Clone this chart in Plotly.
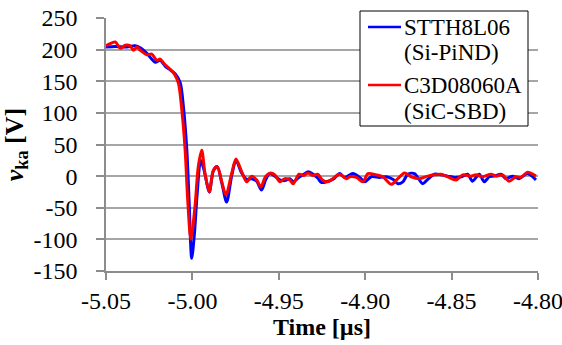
import plotly.graph_objects as go

# Time axis [µs] and voltages [V]
t_si = [-5.0500, -5.0446, -5.0389, -5.0331, -5.0302, -5.0263, -5.0215, -5.0187, -5.0158, -5.0129,
        -5.0100, -5.0071, -5.0052, -5.0032, -5.0019, -5.0004, -4.9988, -4.9973, -4.9952, -4.9933,
        -4.9902, -4.9879, -4.9856, -4.9829, -4.9802, -4.9773, -4.9748, -4.9715, -4.9686, -4.9657,
        -4.9628, -4.9600, -4.9575, -4.9552, -4.9523, -4.9494, -4.9465, -4.9436, -4.9417, -4.9383,
        -4.9360, -4.9331, -4.9302, -4.9275, -4.9254, -4.9225, -4.9186, -4.9148, -4.9119, -4.9071,
        -4.9032, -4.9003, -4.8965, -4.8917, -4.8878, -4.8840, -4.8811, -4.8782, -4.8753, -4.8715,
        -4.8667, -4.8638, -4.8599, -4.8561, -4.8523, -4.8484, -4.8445, -4.8407, -4.8379, -4.8340,
        -4.8311, -4.8282, -4.8253, -4.8214, -4.8185, -4.8147, -4.8109, -4.8061, -4.8012]
v_si = [204, 205, 204, 206, 203, 194, 180, 183, 174, 168,
        162, 148, 110, 40, -40, -130, -90, -30, 25, 10,
        -25, 8, 15, -12, -41, 0, 25, 5, -5, -4,
        -8, -22, -5, 4, 0, -6, -7, -4, -9, -2,
        2, 7, 3, -3, -10, -9, -5, 4, -2, 4,
        -2, -9, -1, -2, -1, -5, -12, -9, 3, 4,
        -12, -5, 3, 2, 0, -2, -1, 3, -8, 3,
        -9, -1, 0, 3, -4, 0, -4, 4, -6]

t_sic = [-5.0500, -5.0446, -5.0417, -5.0389, -5.0360, -5.0341, -5.0321, -5.0302, -5.0263, -5.0235,
         -5.0206, -5.0187, -5.0158, -5.0129, -5.0106, -5.0081, -5.0061, -5.0042, -5.0027, -5.0009,
         -4.9985, -4.9966, -4.9946, -4.9927, -4.9902, -4.9879, -4.9856, -4.9830, -4.9806, -4.9773,
         -4.9748, -4.9715, -4.9686, -4.9657, -4.9628, -4.9604, -4.9577, -4.9548, -4.9523, -4.9494,
         -4.9465, -4.9436, -4.9417, -4.9383, -4.9355, -4.9332, -4.9304, -4.9275, -4.9248, -4.9217,
         -4.9188, -4.9148, -4.9109, -4.9090, -4.9051, -4.9013, -4.8984, -4.8936, -4.8898, -4.8849,
         -4.8811, -4.8773, -4.8734, -4.8686, -4.8638, -4.8599, -4.8561, -4.8523, -4.8474, -4.8436,
         -4.8388, -4.8359, -4.8321, -4.8272, -4.8243, -4.8205, -4.8167, -4.8128, -4.8099, -4.8061,
         -4.8012]
v_sic = [206, 212, 202, 207, 206, 199, 204, 199, 192, 193,
         183, 185, 176, 169, 162, 147, 104, 41, -38, -100,
         -48, 15, 41, 4, -25, 9, 15, -9, -30, 4,
         27, 7, -9, 0, -6, -17, -1, 5, 2, -9,
         -4, -6, -12, 3, 1, 5, 1, 3, -6, -9,
         -4, 3, -4, -1, -2, -9, 4, 2, -1, -13,
         -4, 5, -1, -4, 0, 2, 3, -1, -6, 2,
         0, 2, -1, 3, 0, 2, -8, -1, -2, 6,
         0]

series_names = ["STTH8L06", "C3D08060A"]
series_sub = ["(Si-PiND)", "(SiC-SBD)"]
series_colors = ["#0000FF", "#FF0000"]

x_ticks = [-5.05, -5.00, -4.95, -4.90, -4.85, -4.80]
x_ticktext = ["-5.05", "-5.00", "-4.95", "-4.90", "-4.85", "-4.80"]
y_ticks = [-150, -100, -50, 0, 50, 100, 150, 200, 250]
y_ticktext = ["-150", "-100", "-50", "0", "50", "100", "150", "200", "250"]

FONT = "'Times New Roman', 'Liberation Serif', Tinos, 'DejaVu Serif', serif"

W, H = 562, 345
ML, MR, MT, MB = 106, 24, 18, 74
PW, PH = W - ML - MR, H - MT - MB


def px(xp):
    return (xp - ML) / PW


def py(yp):
    return (H - MB - yp) / PH


fig = go.Figure()
for t, v, nm, sub, col in [(t_si, v_si, series_names[0], series_sub[0], series_colors[0]),
                           (t_sic, v_sic, series_names[1], series_sub[1], series_colors[1])]:
    fig.add_trace(go.Scatter(x=t, y=v, mode="lines", name=nm + " " + sub, showlegend=False,
                             line=dict(color=col, width=3, shape="spline", smoothing=0.8)))

# manual legend (box, line samples, two-line labels)
shapes = [dict(type="rect", xref="paper", yref="paper", x0=px(360), x1=px(528), y0=py(126), y1=py(11),
               line=dict(color="black", width=1), fillcolor="white", layer="above")]
annotations = []
for i, (nm, sub, col) in enumerate(zip(series_names, series_sub, series_colors)):
    y_line = 27 + i * 58
    shapes.append(dict(type="line", xref="paper", yref="paper", x0=px(368), x1=px(401),
                       y0=py(y_line), y1=py(y_line), line=dict(color=col, width=2.5), layer="above"))
    annotations.append(dict(text=nm, xref="paper", yref="paper", x=px(402), y=py(y_line),
                            xanchor="left", yanchor="middle", showarrow=False,
                            font=dict(family=FONT, size=23, color="black")))
    annotations.append(dict(text=sub, xref="paper", yref="paper", x=px(402), y=py(y_line + 26),
                            xanchor="left", yanchor="middle", showarrow=False,
                            font=dict(family=FONT, size=23, color="black")))

fig.update_layout(
    width=W, height=H,
    margin=dict(l=ML, r=MR, t=MT, b=MB),
    paper_bgcolor="white", plot_bgcolor="white",
    font=dict(family=FONT, size=24, color="black"),
    showlegend=False,
    shapes=shapes, annotations=annotations,
    xaxis=dict(range=[-5.05, -4.80], tickvals=x_ticks, ticktext=x_ticktext,
               showgrid=False, showline=True, linecolor="#8c8c8c", linewidth=1.5,
               ticks="outside", ticklen=7, tickcolor="#8c8c8c", tickwidth=1.5,
               zeroline=False, ticklabeloverflow="allow", automargin=False,
               title=dict(text="<b>Time [µs]</b>", font=dict(size=24), standoff=2)),
    yaxis=dict(range=[-150, 250], tickvals=y_ticks, ticktext=y_ticktext,
               showgrid=True, gridcolor="#a6a6a6", gridwidth=1.5,
               showline=True, linecolor="#8c8c8c", linewidth=1.5,
               ticks="outside", ticklen=8, tickcolor="#8c8c8c", tickwidth=1.5,
               zeroline=False, ticklabelstandoff=14, automargin=False,
               title=dict(text="<b><i>v</i><sub>ka</sub> [V]</b>", font=dict(size=26), standoff=4)),
)

fig.write_html("out.html")
